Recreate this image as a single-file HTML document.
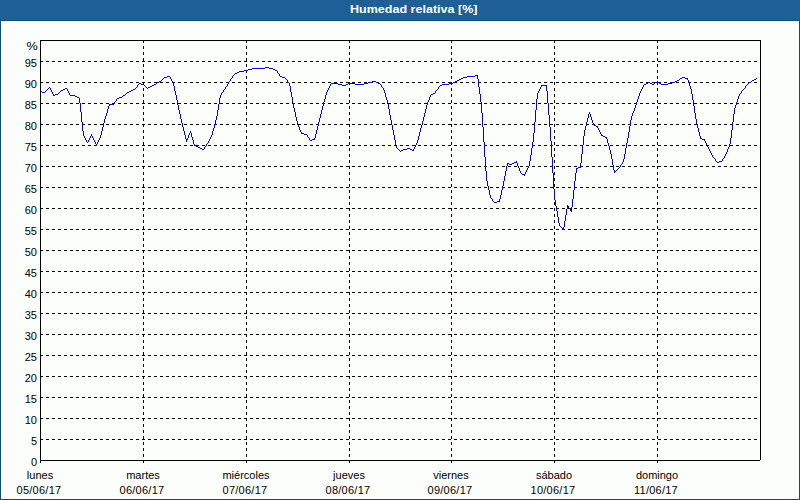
<!DOCTYPE html>
<html><head><meta charset="utf-8"><style>
html,body{margin:0;padding:0;width:800px;height:500px;overflow:hidden;background:#fcfefc;}
#frame{position:absolute;left:0;top:0;width:798px;height:499px;border:1px solid #0b4d88;border-top:none;background:#fcfefc;}
#hdr{position:absolute;left:0;top:0;width:800px;height:20px;background:#1f5f97;border-bottom:1px solid #0b4d88;}
#title{position:absolute;left:350px;top:3px;color:#fff;font:bold 11px "Liberation Sans",sans-serif;line-height:13px;white-space:nowrap;transform:scaleX(1.14);transform-origin:0 0;}
.pc span{display:inline-block;transform:scaleX(1.15);transform-origin:100% 0;}
.dt{letter-spacing:0.25px;}
svg{position:absolute;left:0;top:0;}
.yl{position:absolute;left:0;width:37px;text-align:right;font:11px "Liberation Sans",sans-serif;line-height:13px;color:#000;}
.xl{position:absolute;width:100px;text-align:center;font:11px "Liberation Sans",sans-serif;line-height:13px;color:#000;white-space:nowrap;}
</style></head><body>
<div id="frame"></div>
<div id="hdr"></div>
<div id="title">Humedad relativa [%]</div>
<svg width="800" height="500" viewBox="0 0 800 500" shape-rendering="crispEdges">
<path d="M40 439.5H760M40 418.5H760M40 397.5H760M40 376.5H760M40 355.5H760M40 334.5H760M40 313.5H760M40 292.5H760M40 271.5H760M40 250.5H760M40 229.5H760M40 208.5H760M40 187.5H760M40 166.5H760M40 145.5H760M40 124.5H760M40 103.5H760M40 82.5H760M40 61.5H760" stroke="#000" stroke-width="1" stroke-dasharray="3 3" fill="none"/>
<path d="M143.5 40V463M246.5 40V463M349.5 40V463M451.5 40V463M554.5 40V463M657.5 40V463" stroke="#000" stroke-width="1" stroke-dasharray="3 3" fill="none"/>
<path d="M40 40h721v1h-721zM40 40h1v423h-1zM40 460h720v1h-720zM760 40h1v420h-1z" fill="#000"/>
<path d="M40 91h1v1h-1zM41 91h1v1h-1zM42 92h1v1h-1zM43 92h1v1h-1zM44 92h1v1h-1zM45 91h1v1h-1zM46 90h1v1h-1zM47 89h1v1h-1zM48 88h1v1h-1zM49 87h1v1h-1zM50 88h1v2h-1zM51 90h1v2h-1zM52 92h1v2h-1zM53 94h1v2h-1zM54 95h1v1h-1zM55 94h1v1h-1zM56 94h1v1h-1zM57 94h1v1h-1zM58 93h1v1h-1zM59 92h1v1h-1zM60 91h1v1h-1zM61 90h1v1h-1zM62 90h1v1h-1zM63 89h1v1h-1zM64 89h1v1h-1zM65 88h1v1h-1zM66 88h1v1h-1zM67 89h1v2h-1zM68 91h1v2h-1zM69 93h1v2h-1zM70 95h1v1h-1zM71 95h1v1h-1zM72 95h1v1h-1zM73 95h1v1h-1zM74 95h1v1h-1zM75 96h1v1h-1zM76 96h1v1h-1zM77 97h1v1h-1zM78 97h1v1h-1zM79 98h1v5h-1zM80 103h1v9h-1zM81 112h1v10h-1zM82 122h1v9h-1zM83 131h1v5h-1zM84 136h1v2h-1zM85 138h1v2h-1zM86 140h1v2h-1zM87 142h1v1h-1zM88 140h1v2h-1zM89 138h1v2h-1zM90 136h1v2h-1zM91 134h1v2h-1zM92 136h1v2h-1zM93 138h1v2h-1zM94 140h1v2h-1zM95 142h1v2h-1zM96 144h1v2h-1zM97 142h1v2h-1zM98 140h1v2h-1zM99 138h1v2h-1zM100 135h1v3h-1zM101 131h1v4h-1zM102 127h1v4h-1zM103 123h1v4h-1zM104 119h1v4h-1zM105 116h1v3h-1zM106 113h1v3h-1zM107 109h1v4h-1zM108 106h1v3h-1zM109 104h1v2h-1zM110 104h1v1h-1zM111 104h1v1h-1zM112 104h1v1h-1zM113 104h1v1h-1zM114 102h1v2h-1zM115 101h1v1h-1zM116 99h1v2h-1zM117 98h1v1h-1zM118 98h1v1h-1zM119 97h1v1h-1zM120 97h1v1h-1zM121 97h1v1h-1zM122 96h1v1h-1zM123 95h1v1h-1zM124 95h1v1h-1zM125 94h1v1h-1zM126 93h1v1h-1zM127 92h1v1h-1zM128 92h1v1h-1zM129 91h1v1h-1zM130 91h1v1h-1zM131 90h1v1h-1zM132 90h1v1h-1zM133 89h1v1h-1zM134 89h1v1h-1zM135 88h1v1h-1zM136 87h1v1h-1zM137 85h1v2h-1zM138 84h1v1h-1zM139 83h1v1h-1zM140 83h1v1h-1zM141 84h1v1h-1zM142 84h1v1h-1zM143 84h1v1h-1zM144 85h1v1h-1zM145 86h1v1h-1zM146 87h1v1h-1zM147 88h1v1h-1zM148 87h1v1h-1zM149 87h1v1h-1zM150 86h1v1h-1zM151 86h1v1h-1zM152 85h1v1h-1zM153 85h1v1h-1zM154 84h1v1h-1zM155 84h1v1h-1zM156 83h1v1h-1zM157 82h1v1h-1zM158 82h1v1h-1zM159 81h1v1h-1zM160 81h1v1h-1zM161 80h1v1h-1zM162 79h1v1h-1zM163 78h1v1h-1zM164 77h1v1h-1zM165 77h1v1h-1zM166 77h1v1h-1zM167 76h1v1h-1zM168 76h1v1h-1zM169 76h1v1h-1zM170 77h1v2h-1zM171 79h1v2h-1zM172 81h1v2h-1zM173 83h1v3h-1zM174 86h1v5h-1zM175 91h1v4h-1zM176 95h1v5h-1zM177 100h1v5h-1zM178 105h1v5h-1zM179 110h1v4h-1zM180 114h1v5h-1zM181 119h1v4h-1zM182 123h1v4h-1zM183 127h1v4h-1zM184 131h1v4h-1zM185 135h1v4h-1zM186 139h1v3h-1zM187 138h1v2h-1zM188 135h1v3h-1zM189 133h1v2h-1zM190 131h1v2h-1zM191 133h1v4h-1zM192 137h1v3h-1zM193 140h1v4h-1zM194 144h1v2h-1zM195 145h1v1h-1zM196 146h1v1h-1zM197 146h1v1h-1zM198 147h1v1h-1zM199 147h1v1h-1zM200 148h1v1h-1zM201 148h1v1h-1zM202 149h1v1h-1zM203 149h1v1h-1zM204 147h1v2h-1zM205 146h1v1h-1zM206 144h1v2h-1zM207 143h1v1h-1zM208 141h1v2h-1zM209 139h1v2h-1zM210 137h1v2h-1zM211 135h1v2h-1zM212 131h1v4h-1zM213 128h1v3h-1zM214 124h1v4h-1zM215 120h1v4h-1zM216 116h1v4h-1zM217 110h1v6h-1zM218 104h1v6h-1zM219 98h1v6h-1zM220 95h1v3h-1zM221 93h1v2h-1zM222 92h1v1h-1zM223 90h1v2h-1zM224 89h1v1h-1zM225 87h1v2h-1zM226 86h1v1h-1zM227 84h1v2h-1zM228 82h1v2h-1zM229 81h1v1h-1zM230 79h1v2h-1zM231 78h1v1h-1zM232 76h1v2h-1zM233 75h1v1h-1zM234 74h1v1h-1zM235 73h1v1h-1zM236 73h1v1h-1zM237 72h1v1h-1zM238 72h1v1h-1zM239 71h1v1h-1zM240 71h1v1h-1zM241 71h1v1h-1zM242 71h1v1h-1zM243 71h1v1h-1zM244 70h1v1h-1zM245 70h1v1h-1zM246 70h1v1h-1zM247 70h1v1h-1zM248 69h1v1h-1zM249 69h1v1h-1zM250 69h1v1h-1zM251 69h1v1h-1zM252 68h1v1h-1zM253 68h1v1h-1zM254 68h1v1h-1zM255 68h1v1h-1zM256 68h1v1h-1zM257 68h1v1h-1zM258 68h1v1h-1zM259 68h1v1h-1zM260 68h1v1h-1zM261 68h1v1h-1zM262 68h1v1h-1zM263 68h1v1h-1zM264 68h1v1h-1zM265 67h1v1h-1zM266 67h1v1h-1zM267 67h1v1h-1zM268 67h1v1h-1zM269 68h1v1h-1zM270 68h1v1h-1zM271 68h1v1h-1zM272 68h1v1h-1zM273 69h1v1h-1zM274 69h1v1h-1zM275 70h1v1h-1zM276 70h1v1h-1zM277 71h1v2h-1zM278 73h1v1h-1zM279 74h1v2h-1zM280 76h1v1h-1zM281 76h1v1h-1zM282 77h1v1h-1zM283 77h1v1h-1zM284 77h1v1h-1zM285 78h1v1h-1zM286 79h1v1h-1zM287 80h1v2h-1zM288 82h1v1h-1zM289 83h1v3h-1zM290 86h1v6h-1zM291 92h1v5h-1zM292 97h1v6h-1zM293 103h1v5h-1zM294 108h1v4h-1zM295 112h1v5h-1zM296 117h1v4h-1zM297 121h1v4h-1zM298 125h1v2h-1zM299 127h1v3h-1zM300 130h1v2h-1zM301 132h1v2h-1zM302 133h1v1h-1zM303 133h1v1h-1zM304 134h1v1h-1zM305 134h1v1h-1zM306 134h1v1h-1zM307 135h1v2h-1zM308 137h1v1h-1zM309 138h1v2h-1zM310 140h1v1h-1zM311 140h1v1h-1zM312 139h1v1h-1zM313 139h1v1h-1zM314 138h1v2h-1zM315 134h1v4h-1zM316 130h1v4h-1zM317 126h1v4h-1zM318 122h1v4h-1zM319 118h1v4h-1zM320 114h1v4h-1zM321 110h1v4h-1zM322 106h1v4h-1zM323 102h1v4h-1zM324 99h1v3h-1zM325 95h1v4h-1zM326 92h1v3h-1zM327 90h1v2h-1zM328 88h1v2h-1zM329 86h1v2h-1zM330 84h1v2h-1zM331 83h1v1h-1zM332 83h1v1h-1zM333 83h1v1h-1zM334 83h1v1h-1zM335 83h1v1h-1zM336 83h1v1h-1zM337 83h1v1h-1zM338 84h1v1h-1zM339 84h1v1h-1zM340 84h1v1h-1zM341 84h1v1h-1zM342 85h1v1h-1zM343 85h1v1h-1zM344 85h1v1h-1zM345 85h1v1h-1zM346 84h1v1h-1zM347 84h1v1h-1zM348 83h1v1h-1zM349 83h1v1h-1zM350 83h1v1h-1zM351 83h1v1h-1zM352 83h1v1h-1zM353 83h1v1h-1zM354 83h1v1h-1zM355 84h1v1h-1zM356 84h1v1h-1zM357 84h1v1h-1zM358 84h1v1h-1zM359 84h1v1h-1zM360 84h1v1h-1zM361 84h1v1h-1zM362 84h1v1h-1zM363 84h1v1h-1zM364 83h1v1h-1zM365 83h1v1h-1zM366 83h1v1h-1zM367 83h1v1h-1zM368 82h1v1h-1zM369 82h1v1h-1zM370 82h1v1h-1zM371 82h1v1h-1zM372 81h1v1h-1zM373 81h1v1h-1zM374 81h1v1h-1zM375 81h1v1h-1zM376 82h1v1h-1zM377 82h1v1h-1zM378 83h1v1h-1zM379 83h1v1h-1zM380 84h1v1h-1zM381 85h1v2h-1zM382 87h1v1h-1zM383 88h1v2h-1zM384 90h1v3h-1zM385 93h1v4h-1zM386 97h1v3h-1zM387 100h1v4h-1zM388 104h1v5h-1zM389 109h1v6h-1zM390 115h1v5h-1zM391 120h1v5h-1zM392 125h1v5h-1zM393 130h1v5h-1zM394 135h1v5h-1zM395 140h1v5h-1zM396 145h1v3h-1zM397 148h1v1h-1zM398 149h1v1h-1zM399 150h1v1h-1zM400 151h1v1h-1zM401 150h1v1h-1zM402 150h1v1h-1zM403 149h1v1h-1zM404 149h1v1h-1zM405 149h1v1h-1zM406 149h1v1h-1zM407 148h1v1h-1zM408 148h1v1h-1zM409 148h1v1h-1zM410 149h1v1h-1zM411 149h1v1h-1zM412 150h1v1h-1zM413 149h1v2h-1zM414 147h1v2h-1zM415 145h1v2h-1zM416 143h1v2h-1zM417 140h1v3h-1zM418 136h1v4h-1zM419 132h1v4h-1zM420 128h1v4h-1zM421 125h1v3h-1zM422 121h1v4h-1zM423 117h1v4h-1zM424 113h1v4h-1zM425 109h1v4h-1zM426 105h1v4h-1zM427 102h1v3h-1zM428 100h1v2h-1zM429 97h1v3h-1zM430 95h1v2h-1zM431 94h1v1h-1zM432 94h1v1h-1zM433 93h1v1h-1zM434 93h1v1h-1zM435 91h1v2h-1zM436 90h1v1h-1zM437 89h1v1h-1zM438 87h1v2h-1zM439 86h1v1h-1zM440 85h1v1h-1zM441 85h1v1h-1zM442 84h1v1h-1zM443 84h1v1h-1zM444 84h1v1h-1zM445 84h1v1h-1zM446 84h1v1h-1zM447 84h1v1h-1zM448 84h1v1h-1zM449 83h1v1h-1zM450 83h1v1h-1zM451 83h1v1h-1zM452 83h1v1h-1zM453 82h1v1h-1zM454 82h1v1h-1zM455 81h1v1h-1zM456 81h1v1h-1zM457 80h1v1h-1zM458 80h1v1h-1zM459 79h1v1h-1zM460 79h1v1h-1zM461 78h1v1h-1zM462 78h1v1h-1zM463 77h1v1h-1zM464 77h1v1h-1zM465 77h1v1h-1zM466 77h1v1h-1zM467 76h1v1h-1zM468 76h1v1h-1zM469 76h1v1h-1zM470 76h1v1h-1zM471 76h1v1h-1zM472 76h1v1h-1zM473 76h1v1h-1zM474 76h1v1h-1zM475 75h1v1h-1zM476 75h1v1h-1zM477 75h1v4h-1zM478 79h1v8h-1zM479 87h1v7h-1zM480 94h1v8h-1zM481 102h1v11h-1zM482 113h1v14h-1zM483 127h1v15h-1zM484 142h1v15h-1zM485 157h1v14h-1zM486 171h1v10h-1zM487 181h1v5h-1zM488 186h1v4h-1zM489 190h1v5h-1zM490 195h1v3h-1zM491 198h1v1h-1zM492 199h1v2h-1zM493 201h1v1h-1zM494 202h1v1h-1zM495 202h1v1h-1zM496 202h1v1h-1zM497 201h1v1h-1zM498 201h1v1h-1zM499 199h1v3h-1zM500 195h1v4h-1zM501 190h1v5h-1zM502 186h1v4h-1zM503 181h1v5h-1zM504 176h1v5h-1zM505 171h1v5h-1zM506 166h1v5h-1zM507 163h1v3h-1zM508 163h1v1h-1zM509 164h1v1h-1zM510 164h1v1h-1zM511 164h1v1h-1zM512 163h1v1h-1zM513 163h1v1h-1zM514 162h1v1h-1zM515 162h1v1h-1zM516 161h1v2h-1zM517 163h1v3h-1zM518 166h1v2h-1zM519 168h1v3h-1zM520 171h1v2h-1zM521 173h1v1h-1zM522 174h1v1h-1zM523 174h1v1h-1zM524 174h1v2h-1zM525 172h1v2h-1zM526 170h1v2h-1zM527 168h1v2h-1zM528 166h1v2h-1zM529 161h1v5h-1zM530 155h1v6h-1zM531 148h1v7h-1zM532 142h1v6h-1zM533 133h1v9h-1zM534 122h1v11h-1zM535 110h1v12h-1zM536 99h1v11h-1zM537 93h1v6h-1zM538 91h1v2h-1zM539 89h1v2h-1zM540 87h1v2h-1zM541 85h1v2h-1zM542 85h1v1h-1zM543 85h1v1h-1zM544 85h1v1h-1zM545 85h1v1h-1zM546 85h1v6h-1zM547 91h1v12h-1zM548 103h1v12h-1zM549 115h1v12h-1zM550 127h1v14h-1zM551 141h1v16h-1zM552 157h1v16h-1zM553 173h1v16h-1zM554 189h1v11h-1zM555 200h1v6h-1zM556 206h1v5h-1zM557 211h1v6h-1zM558 217h1v6h-1zM559 223h1v3h-1zM560 226h1v1h-1zM561 227h1v1h-1zM562 228h1v1h-1zM563 227h1v3h-1zM564 221h1v6h-1zM565 215h1v6h-1zM566 209h1v6h-1zM567 205h1v4h-1zM568 206h1v2h-1zM569 208h1v1h-1zM570 209h1v2h-1zM571 207h1v5h-1zM572 199h1v8h-1zM573 190h1v9h-1zM574 181h1v9h-1zM575 173h1v8h-1zM576 168h1v5h-1zM577 168h1v1h-1zM578 167h1v1h-1zM579 167h1v1h-1zM580 163h1v5h-1zM581 154h1v9h-1zM582 145h1v9h-1zM583 136h1v9h-1zM584 130h1v6h-1zM585 126h1v4h-1zM586 122h1v4h-1zM587 118h1v4h-1zM588 114h1v4h-1zM589 112h1v2h-1zM590 114h1v3h-1zM591 117h1v3h-1zM592 120h1v3h-1zM593 123h1v2h-1zM594 125h1v1h-1zM595 125h1v1h-1zM596 126h1v1h-1zM597 126h1v2h-1zM598 128h1v2h-1zM599 130h1v2h-1zM600 132h1v2h-1zM601 134h1v2h-1zM602 135h1v1h-1zM603 136h1v1h-1zM604 136h1v1h-1zM605 137h1v1h-1zM606 137h1v2h-1zM607 139h1v4h-1zM608 143h1v3h-1zM609 146h1v4h-1zM610 150h1v4h-1zM611 154h1v5h-1zM612 159h1v6h-1zM613 165h1v5h-1zM614 170h1v3h-1zM615 171h1v1h-1zM616 170h1v1h-1zM617 169h1v1h-1zM618 168h1v1h-1zM619 167h1v1h-1zM620 165h1v2h-1zM621 164h1v1h-1zM622 162h1v2h-1zM623 159h1v3h-1zM624 154h1v5h-1zM625 148h1v6h-1zM626 143h1v5h-1zM627 138h1v5h-1zM628 132h1v6h-1zM629 126h1v6h-1zM630 120h1v6h-1zM631 116h1v4h-1zM632 113h1v3h-1zM633 111h1v2h-1zM634 108h1v3h-1zM635 105h1v3h-1zM636 102h1v3h-1zM637 99h1v3h-1zM638 96h1v3h-1zM639 93h1v3h-1zM640 91h1v2h-1zM641 89h1v2h-1zM642 87h1v2h-1zM643 85h1v2h-1zM644 84h1v1h-1zM645 84h1v1h-1zM646 83h1v1h-1zM647 83h1v1h-1zM648 82h1v1h-1zM649 82h1v1h-1zM650 83h1v1h-1zM651 83h1v1h-1zM652 84h1v1h-1zM653 84h1v1h-1zM654 83h1v1h-1zM655 82h1v1h-1zM656 82h1v1h-1zM657 81h1v1h-1zM658 82h1v1h-1zM659 83h1v1h-1zM660 83h1v1h-1zM661 84h1v1h-1zM662 84h1v1h-1zM663 84h1v1h-1zM664 84h1v1h-1zM665 84h1v1h-1zM666 84h1v1h-1zM667 84h1v1h-1zM668 83h1v1h-1zM669 83h1v1h-1zM670 83h1v1h-1zM671 83h1v1h-1zM672 82h1v1h-1zM673 82h1v1h-1zM674 82h1v1h-1zM675 81h1v1h-1zM676 81h1v1h-1zM677 80h1v1h-1zM678 80h1v1h-1zM679 79h1v1h-1zM680 78h1v1h-1zM681 78h1v1h-1zM682 77h1v1h-1zM683 77h1v1h-1zM684 77h1v1h-1zM685 78h1v1h-1zM686 78h1v1h-1zM687 78h1v2h-1zM688 80h1v3h-1zM689 83h1v3h-1zM690 86h1v3h-1zM691 89h1v5h-1zM692 94h1v6h-1zM693 100h1v6h-1zM694 106h1v7h-1zM695 113h1v6h-1zM696 119h1v5h-1zM697 124h1v4h-1zM698 128h1v4h-1zM699 132h1v4h-1zM700 136h1v3h-1zM701 138h1v1h-1zM702 139h1v1h-1zM703 139h1v1h-1zM704 139h1v2h-1zM705 141h1v2h-1zM706 143h1v2h-1zM707 145h1v2h-1zM708 147h1v2h-1zM709 149h1v2h-1zM710 151h1v2h-1zM711 153h1v2h-1zM712 155h1v2h-1zM713 157h1v1h-1zM714 158h1v1h-1zM715 159h1v2h-1zM716 161h1v1h-1zM717 162h1v1h-1zM718 162h1v1h-1zM719 161h1v1h-1zM720 161h1v1h-1zM721 161h1v1h-1zM722 159h1v2h-1zM723 158h1v1h-1zM724 156h1v2h-1zM725 154h1v2h-1zM726 152h1v2h-1zM727 149h1v3h-1zM728 147h1v2h-1zM729 144h1v3h-1zM730 138h1v6h-1zM731 130h1v8h-1zM732 122h1v8h-1zM733 114h1v8h-1zM734 108h1v6h-1zM735 105h1v3h-1zM736 102h1v3h-1zM737 99h1v3h-1zM738 96h1v3h-1zM739 94h1v2h-1zM740 93h1v1h-1zM741 91h1v2h-1zM742 90h1v1h-1zM743 89h1v1h-1zM744 88h1v1h-1zM745 86h1v2h-1zM746 85h1v1h-1zM747 84h1v1h-1zM748 83h1v1h-1zM749 82h1v1h-1zM750 82h1v1h-1zM751 81h1v1h-1zM752 80h1v1h-1zM753 80h1v1h-1zM754 79h1v1h-1zM755 79h1v1h-1zM756 78h1v1h-1z" fill="#0000f0"/>
</svg>
<div class="yl" style="top:456px">0</div><div class="yl" style="top:435px">5</div><div class="yl" style="top:414px">10</div><div class="yl" style="top:393px">15</div><div class="yl" style="top:372px">20</div><div class="yl" style="top:351px">25</div><div class="yl" style="top:330px">30</div><div class="yl" style="top:309px">35</div><div class="yl" style="top:288px">40</div><div class="yl" style="top:267px">45</div><div class="yl" style="top:246px">50</div><div class="yl" style="top:225px">55</div><div class="yl" style="top:204px">60</div><div class="yl" style="top:183px">65</div><div class="yl" style="top:162px">70</div><div class="yl" style="top:141px">75</div><div class="yl" style="top:120px">80</div><div class="yl" style="top:99px">85</div><div class="yl" style="top:78px">90</div><div class="yl" style="top:57px">95</div><div class="yl pc" style="top:40px;width:38px"><span>%</span></div>
<div class="xl" style="left:-10px;top:469px">lunes</div><div class="xl dt" style="left:-11px;top:484px">05/06/17</div><div class="xl" style="left:93px;top:469px">martes</div><div class="xl dt" style="left:92px;top:484px">06/06/17</div><div class="xl" style="left:196px;top:469px">miércoles</div><div class="xl dt" style="left:195px;top:484px">07/06/17</div><div class="xl" style="left:299px;top:469px">jueves</div><div class="xl dt" style="left:298px;top:484px">08/06/17</div><div class="xl" style="left:401px;top:469px">viernes</div><div class="xl dt" style="left:400px;top:484px">09/06/17</div><div class="xl" style="left:504px;top:469px">sábado</div><div class="xl dt" style="left:503px;top:484px">10/06/17</div><div class="xl" style="left:607px;top:469px">domingo</div><div class="xl dt" style="left:606px;top:484px">11/06/17</div>
</body></html>
